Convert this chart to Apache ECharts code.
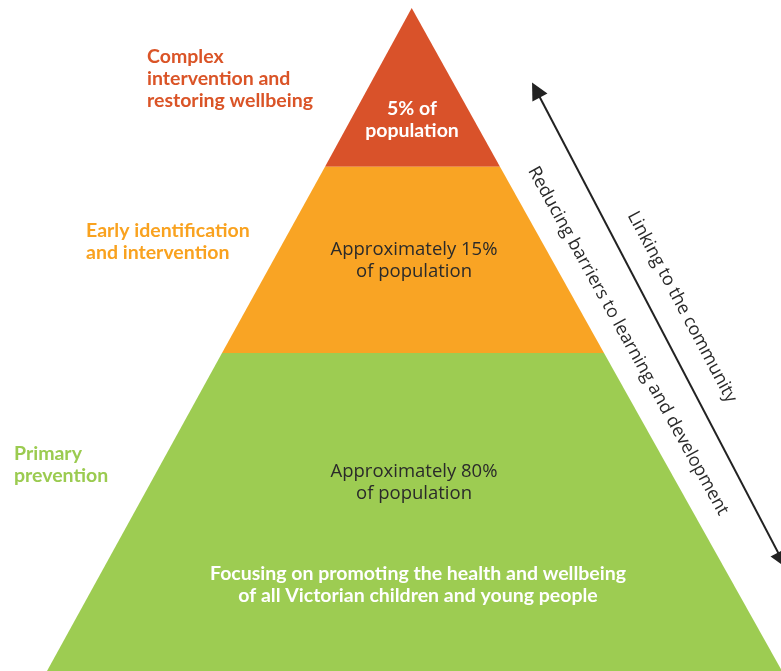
<!DOCTYPE html>
<html>
<head>
<meta charset="utf-8">
<script src="https://cdn.jsdelivr.net/npm/echarts@6/dist/echarts.min.js"></script>
<style>html,body{margin:0;padding:0;background:#fff}#c{width:781px;height:671px}</style>
</head>
<body>
<div id="c"></div>
<script>
// Tiers from top to bottom
var tierNames = ['Complex\nintervention and\nrestoring wellbeing', 'Early identification\nand intervention', 'Primary\nprevention'];
var tierShares = ['5% of\npopulation', 'Approximately 15%\nof population', 'Approximately 80%\nof population'];
var tierNote = 'Focusing on promoting the health and wellbeing\nof all Victorian children and young people';
var tierColors = ['#D9522A', '#F9A424', '#9DCC52'];
// Pyramid outline in chart units (y grows downward)
var levelY = [8, 166.7, 353, 671];
var leftX = [411.7, 325, 222, 47];
var rightX = [411.7, 500, 604, 782];
var sideTexts = ['Reducing barriers to learning and development', 'Linking to the community'];

var chart = echarts.init(document.getElementById('c'), null, {renderer: 'canvas'});

var tierData = tierColors.map(function (c, i) { return [i]; });

function tierRender(params, api) {
  var i = api.value(0);
  var pts = [
    api.coord([leftX[i], levelY[i]]),
    api.coord([rightX[i], levelY[i]]),
    api.coord([rightX[i + 1], levelY[i + 1]]),
    api.coord([leftX[i + 1], levelY[i + 1]])
  ];
  return {type: 'polygon', shape: {points: pts}, style: {fill: tierColors[i]}};
}

var textItems = [
  // [x, y, text, color, weight, size, align, rotationDeg]
  [147, 46, tierNames[0], '#DA5427', 'bold', 19.5, 'left', 0],
  [86, 220, tierNames[1], '#F9A21F', 'bold', 19.5, 'left', 0],
  [14, 443, tierNames[2], '#9BCB50', 'bold', 19.5, 'left', 0],
  [412, 98, tierShares[0], '#ffffff', 'bold', 19.5, 'center', 0],
  [414, 239, tierShares[1], '#2a2a2a', 'normal', 18.5, 'center', 0],
  [414, 461, tierShares[2], '#2a2a2a', 'normal', 18.5, 'center', 0],
  [418, 563, tierNote, '#ffffff', 'bold', 19.5, 'center', 0],
  [628, 341, sideTexts[0], '#2a2a2a', 'normal', 18, 'center', -61],
  [682, 307, sideTexts[1], '#2a2a2a', 'normal', 18, 'center', -62]
];

function textRender(params, api) {
  var t = textItems[params.dataIndex];
  var p = api.coord([t[0], t[1]]);
  var rot = t[7];
  return {
    type: 'text',
    x: p[0], y: p[1],
    rotation: rot * Math.PI / 180,
    style: {
      text: t[2], x: 0, y: 0,
      fill: t[3],
      fontFamily: t[4] === 'normal' ? 'Open Sans' : 'Lato',
      fontWeight: t[4], fontSize: t[5],
      lineHeight: 22,
      align: t[6],
      verticalAlign: rot !== 0 ? 'middle' : 'top'
    }
  };
}

chart.setOption({
  animation: false,
  grid: {left: 0, right: 0, top: 0, bottom: 0},
  xAxis: {type: 'value', min: 0, max: 781, show: false},
  yAxis: {type: 'value', min: 0, max: 671, inverse: true, show: false},
  series: [
    {type: 'custom', renderItem: tierRender, data: tierData, silent: true},
    {type: 'custom', renderItem: textRender, data: textItems.map(function (t, i) { return [i]; }), silent: true},
    {
      type: 'lines', coordinateSystem: 'cartesian2d', silent: true,
      symbol: ['triangle', 'triangle'], symbolSize: 17,
      lineStyle: {color: '#222', width: 2, opacity: 1},
      data: [{coords: [[536, 90], [782, 560]]}]
    }
  ]
});
</script>
</body>
</html>
